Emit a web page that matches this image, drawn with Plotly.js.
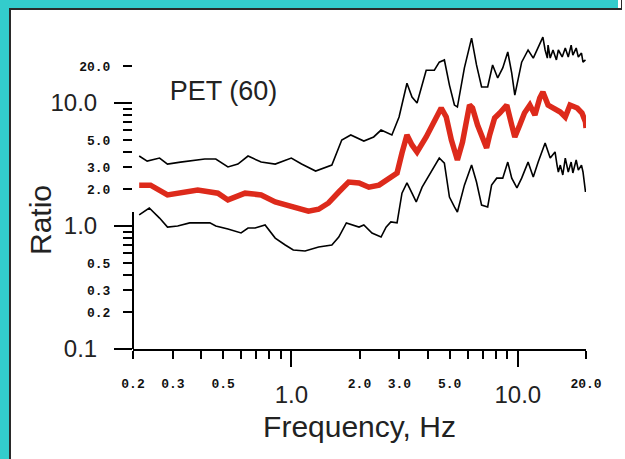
<!DOCTYPE html>
<html>
<head>
<meta charset="utf-8">
<script src="https://cdn.plot.ly/plotly-3.0.1.min.js"></script>
<style>
  html, body { margin:0; padding:0; background:#ffffff; }
  #wrap { position:relative; width:625px; height:459px; overflow:hidden; }
  #chart { position:absolute; left:0; top:0; width:625px; height:459px; }
  .fr { position:absolute; }
</style>
</head>
<body>
<div id="wrap">
  <div id="chart"></div>
  <div class="fr" style="left:0;top:0;width:9px;height:459px;background:#33CCCC;"></div>
  <div class="fr" style="left:0;top:0;width:618px;height:8px;background:#33CCCC;"></div>
  <div class="fr" style="left:9px;top:8px;width:2px;height:451px;background:#2a2a2a;"></div>
  <div class="fr" style="left:9px;top:8px;width:613px;height:2px;background:#2a2a2a;"></div>
  <div class="fr" style="left:621px;top:0;width:1px;height:10px;background:#2a2a2a;"></div>
</div>
<script>
// ---- data ----
const freqMean = [0.213,0.239,0.284,0.315,0.386,0.474,0.525,0.625,0.736,0.849,1.04,1.19,1.32,1.46,1.62,1.79,1.99,2.20,2.44,2.70,2.93,3.08,3.24,3.41,3.59,3.94,4.28,4.59,4.83,5.09,5.41,5.70,6.12,6.31,6.64,6.99,7.28,7.51,7.90,8.32,8.94,9.40,9.70,10.2,10.7,11.3,11.9,12.5,12.9,13.6,14.3,15.4,16.2,17.0,18.3,19.2,19.9,20.0];
const ratioMean = [2.15,2.15,1.79,1.85,1.96,1.85,1.63,1.85,1.79,1.57,1.43,1.32,1.37,1.54,1.89,2.28,2.24,2.07,2.15,2.45,2.70,3.92,5.50,4.56,4.00,5.30,7.01,9.11,7.70,5.00,3.44,4.82,9.63,9.11,6.62,5.00,4.31,5.50,7.55,8.30,9.63,6.62,5.30,6.62,8.30,9.63,7.98,10.98,12.3,9.63,9.11,8.45,7.70,9.63,9.11,8.30,7.01,6.27];

const freqUpper = [0.213,0.231,0.262,0.284,0.324,0.415,0.464,0.489,0.525,0.581,0.644,0.736,0.849,1.00,1.11,1.28,1.42,1.51,1.67,1.83,2.09,2.31,2.49,2.78,2.99,3.24,3.41,3.59,3.94,4.28,4.50,4.74,4.99,5.25,5.41,5.81,6.25,6.57,6.92,7.36,7.74,8.15,8.58,9.03,9.40,9.70,10.4,11.1,11.7,12.3,12.9,13.2,13.5,13.6,13.9,14.3,14.8,15.1,15.7,16.2,16.7,17.2,17.5,18.1,18.5,19.1,19.4,19.9];
const ratioUpper = [3.71,3.37,3.57,3.19,3.31,3.51,3.51,3.31,3.02,3.19,3.71,3.31,3.19,3.57,3.19,2.80,3.02,3.13,5.00,5.50,4.91,5.30,6.03,5.50,7.70,14.5,11.2,10.0,18.5,18.5,21.5,22.4,14.0,9.63,9.28,19.3,33.7,20.4,13.5,13.5,20.4,16.0,19.3,26.0,17.5,11.6,21.5,27.0,23.2,28.0,34.4,27.0,23.2,29.6,23.2,27.0,22.4,27.0,23.7,28.0,23.7,29.6,24.5,28.0,23.7,25.5,21.5,22.4];

const freqLower = [0.213,0.236,0.262,0.284,0.315,0.356,0.437,0.464,0.525,0.600,0.644,0.692,0.766,0.849,0.94,1.02,1.15,1.32,1.51,1.62,1.75,1.99,2.09,2.27,2.49,2.62,2.75,2.93,3.08,3.24,3.41,3.56,3.78,4.19,4.50,4.74,4.99,5.25,5.41,5.81,6.25,6.57,6.92,7.36,7.66,8.07,8.58,9.03,9.40,9.91,10.4,11.1,11.7,12.3,13.2,13.9,14.6,14.9,15.1,15.4,15.8,16.2,16.7,17.2,17.5,18.1,18.5,19.1,19.4,19.9];
const ratioLower = [1.23,1.40,1.16,0.98,1.00,1.06,1.06,1.00,0.946,0.878,0.963,0.963,1.02,0.798,0.701,0.638,0.626,0.675,0.701,0.814,1.06,0.98,1.02,0.878,0.814,0.98,1.08,1.06,1.85,2.24,1.85,1.57,2.07,2.85,3.57,3.25,1.72,1.43,1.30,2.15,3.13,2.28,1.48,1.43,2.15,2.45,2.45,3.31,2.45,2.04,2.45,3.31,2.50,3.31,4.73,3.57,4.00,3.13,2.75,3.13,2.60,3.57,2.75,3.31,2.70,3.44,2.85,3.13,2.75,1.89];

// axis ticks
const xSmallVals = [0.2,0.3,0.4,0.5,0.6,0.7,0.8,0.9,2,3,4,5,6,7,8,9,20];
const xSmallText = ['0.2','0.3','','0.5','','','','','2.0','3.0','','5.0','','','','','20.0'];
const xBigVals = [1,10];
const xBigText = ['1.0','10.0'];
const ySmallVals = [0.2,0.3,0.4,0.5,0.6,0.7,0.8,0.9,2,3,4,5,6,7,8,9,20];
const ySmallText = ['0.2','0.3','','0.5','','','','','2.0','3.0','','5.0','','','','','20.0'];
const yBigVals = [0.1,1,10];
const yBigText = ['0.1','1.0','10.0'];

const chartTitle = 'PET (60)';
const xTitle = 'Frequency, Hz';
const yTitle = 'Ratio';

const xRange = [Math.log10(0.2), Math.log10(20)];
const yRange = [Math.log10(0.1), Math.log10(40)];
const yLineTop = 20;

const sans = 'Liberation Sans, Arial, sans-serif';
const smallFont = {family:'Liberation Mono, DejaVu Sans Mono, monospace', size:13, color:'#111', weight:'bold'};
const bigFont = {family:sans, size:24, color:'#222'};

const traces = [
  {x:freqUpper, y:ratioUpper, type:'scatter', mode:'lines', line:{color:'#000', width:1.6}, showlegend:false, hoverinfo:'skip'},
  {x:freqLower, y:ratioLower, type:'scatter', mode:'lines', line:{color:'#000', width:1.6}, showlegend:false, hoverinfo:'skip'},
  {x:freqMean, y:ratioMean, type:'scatter', mode:'lines', line:{color:'#DD2A1B', width:5.5}, showlegend:false, hoverinfo:'skip', xaxis:'x2', yaxis:'y2'}
];

const layout = {
  width:625, height:459,
  margin:{l:133, r:39, t:29, b:110},
  paper_bgcolor:'#ffffff', plot_bgcolor:'rgba(0,0,0,0)',
  showlegend:false,
  title:{text:chartTitle, font:{family:sans, size:27, color:'#222'},
         xref:'paper', x:0.081, xanchor:'left', yref:'paper', y:0.809, yanchor:'middle'},
  xaxis:{type:'log', range:xRange, showgrid:false, zeroline:false,
         showline:true, linecolor:'#000', linewidth:2,
         tickmode:'array', tickvals:xSmallVals, ticktext:xSmallText,
         ticks:'outside', ticklen:8, tickwidth:2, tickcolor:'#000',
         tickfont:smallFont, ticklabelstandoff:13,
         title:{text:xTitle, font:{family:sans, size:30, color:'#222'}, standoff:25}},
  xaxis2:{type:'log', range:xRange, overlaying:'x', anchor:'y2', side:'bottom',
          showgrid:false, zeroline:false, showline:false,
          tickmode:'array', tickvals:xBigVals, ticktext:xBigText,
          ticks:'outside', ticklen:17, tickwidth:2, tickcolor:'#000',
          tickfont:bigFont, ticklabelstandoff:7},
  yaxis:{type:'log', range:yRange, showgrid:false, zeroline:false, showline:false,
         tickmode:'array', tickvals:ySmallVals, ticktext:ySmallText,
         ticks:'outside', ticklen:9, tickwidth:2, tickcolor:'#000',
         tickfont:smallFont, ticklabelstandoff:10},
  yaxis2:{type:'log', range:yRange, overlaying:'y', anchor:'x2', side:'left',
          showgrid:false, zeroline:false, showline:false,
          tickmode:'array', tickvals:yBigVals, ticktext:yBigText,
          ticks:'outside', ticklen:18, tickwidth:2, tickcolor:'#000',
          tickfont:bigFont, ticklabelstandoff:12},
  annotations:[
    {text:yTitle, textangle:-90, showarrow:false, xref:'paper', yref:'paper',
     x:0, xanchor:'center', xshift:-93, y:0.403, yanchor:'middle',
     font:{family:sans, size:30, color:'#222'}}
  ],
  shapes:[
    {type:'line', xref:'paper', yref:'y', x0:0, x1:0, y0:Math.log10(0.1), y1:Math.log10(yLineTop),
     line:{color:'#000', width:2}}
  ]
};

Plotly.newPlot('chart', traces, layout, {displayModeBar:false, staticPlot:true});
</script>
</body>
</html>
